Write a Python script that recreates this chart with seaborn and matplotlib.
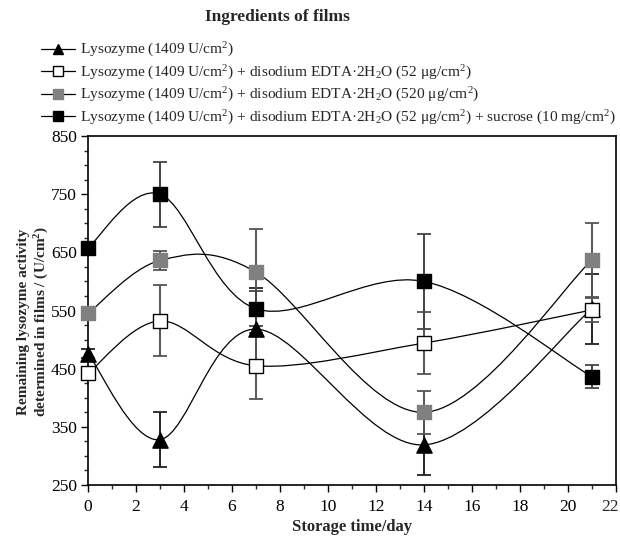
import numpy as np
import pandas as pd
import matplotlib
matplotlib.use("Agg")
import matplotlib.pyplot as plt
import seaborn as sns
from matplotlib.path import Path
from matplotlib.patches import PathPatch
from matplotlib.lines import Line2D
from matplotlib.ticker import MultipleLocator, FuncFormatter

# ---- data ----
days = [0, 3, 7, 14, 21]
lyso = [476, 328, 518, 319, 553]
lyso_err = [8, 47, 70, 51, 60]
edta52 = [442, 532, 455, 494, 551]
edta52_err = [6, 61, 57, 54, 20]
edta520 = [545, 636, 616, 375, 637]
edta520_err = [6, 16, 74, 37, 63]
sucrose = [658, 750, 553, 600, 436]
sucrose_err = [6, 56, 30, 81, 20]

labels = [
    "Lysozyme (1409 U/cm$^{2}$)",
    "Lysozyme (1409 U/cm$^{2}$) + disodium EDTA·2H$_{2}$O (52 μg/cm$^{2}$)",
    "Lysozyme (1409 U/cm$^{2}$) + disodium EDTA·2H$_{2}$O (520 μg/cm$^{2}$)",
    "Lysozyme (1409 U/cm$^{2}$) + disodium EDTA·2H$_{2}$O (52 μg/cm$^{2}$) + sucrose (10 mg/cm$^{2}$)",
]
series_vals = [lyso, edta52, edta520, sucrose]
series_err = [lyso_err, edta52_err, edta520_err, sucrose_err]

sns.set_theme(style="ticks")
plt.rcParams["font.family"] = ["Liberation Serif", "DejaVu Serif"]
plt.rcParams["mathtext.fontset"] = "custom"
plt.rcParams["mathtext.rm"] = "Liberation Serif"
plt.rcParams["mathtext.it"] = "Liberation Serif:italic"
plt.rcParams["mathtext.bf"] = "Liberation Serif:bold"

styles = [
    dict(marker="^", face="black", edge="black"),
    dict(marker="s", face="white", edge="black"),
    dict(marker="s", face="#808080", edge="#808080"),
    dict(marker="s", face="black", edge="black"),
]
err_colors = ["#222222", "#555555", "#555555", "#444444"]

fig = plt.figure(figsize=(6.2, 5.39), dpi=100)
ax = fig.add_axes([88 / 620, 1 - 485 / 539, (616 - 88) / 620, (485 - 136) / 539])


def smooth_path(x, y):
    P = np.column_stack([x, y]).astype(float)
    n = len(P)
    verts = [P[0]]
    codes = [Path.MOVETO]
    for i in range(n - 1):
        p0 = P[i - 1] if i > 0 else P[i]
        p1 = P[i]
        p2 = P[i + 1]
        p3 = P[i + 2] if i + 2 < n else P[i + 1]
        c1 = p1 + (p2 - p0) / 6.0
        c2 = p2 - (p3 - p1) / 6.0
        verts += [c1, c2, p2]
        codes += [Path.CURVE4] * 3
    return Path(verts, codes)


for vals, err, st, ec, lab in zip(series_vals, series_err, styles, err_colors, labels):
    df = pd.DataFrame({"day": days, "val": vals})
    patch = PathPatch(smooth_path(days, vals), facecolor="none", edgecolor="black",
                      lw=0.9, zorder=2, clip_on=False)
    ax.add_patch(patch)
    ax.errorbar(days, vals, yerr=err, fmt="none", ecolor=ec, elinewidth=1.4,
                capsize=5, capthick=1.3, zorder=3, clip_on=False)
    sns.scatterplot(data=df, x="day", y="val", ax=ax, marker=st["marker"],
                    color=st["face"], edgecolor=st["edge"], linewidth=1.0,
                    s=110 if st["marker"] == "s" else 120, zorder=4, clip_on=False,
                    legend=False)

XMAX = 22
ax.set_xlim(0, XMAX)
ax.set_ylim(250, 850)
ax.xaxis.set_major_locator(MultipleLocator(2))
ax.xaxis.set_minor_locator(MultipleLocator(1))
ax.xaxis.set_major_formatter(FuncFormatter(lambda v, p: "" if v >= XMAX - 0.01 else f"{v:g}"))
ax.yaxis.set_minor_locator(MultipleLocator(25))
ax.set_yticks(np.arange(250, 851, 100))
ax.tick_params(axis="both", which="major", direction="out", length=5, width=1,
               labelsize=12.5, colors="black")
ax.tick_params(axis="x", which="major", pad=5)
ax.tick_params(axis="y", which="major", pad=3)
ax.tick_params(axis="both", which="minor", direction="out", length=3, width=1)
# last x tick label, nudged left so it stays inside the figure
ax.annotate(f"{XMAX}", xy=(XMAX, 0), xycoords=("data", "axes fraction"),
            xytext=(-4, -10), textcoords="offset points", ha="center", va="top",
            fontsize=12.5, annotation_clip=False)
for sp in ax.spines.values():
    sp.set_visible(True)
    sp.set_color("black")
    sp.set_linewidth(1.2)
ax.set_xlabel("Storage time/day", fontsize=12, fontweight="bold", labelpad=3)
ax.set_ylabel("Remaining lysozyme activity\ndetermined in films / (U/cm$^{\\mathbf{2}}$)",
              fontsize=11, fontweight="bold")
ax.yaxis.set_label_coords(-0.071, 0.467)

handles = [Line2D([0], [0], color="black", lw=0.9, marker=st["marker"],
                  markerfacecolor=st["face"], markeredgecolor=st["edge"], markersize=7)
           for st in styles]
fig.legend(handles, labels, loc="upper left", bbox_to_anchor=(41 / 620, 1 - 41 / 539),
           frameon=False, fontsize=11.1, handlelength=2.2, handletextpad=0.33,
           labelspacing=0.28, borderaxespad=0, borderpad=0)
fig.text(277 / 620, 1 - 17 / 539, "Ingredients of films", ha="center", va="center",
         fontsize=12.5, fontweight="bold")

fig.savefig("out.png", dpi=100)
